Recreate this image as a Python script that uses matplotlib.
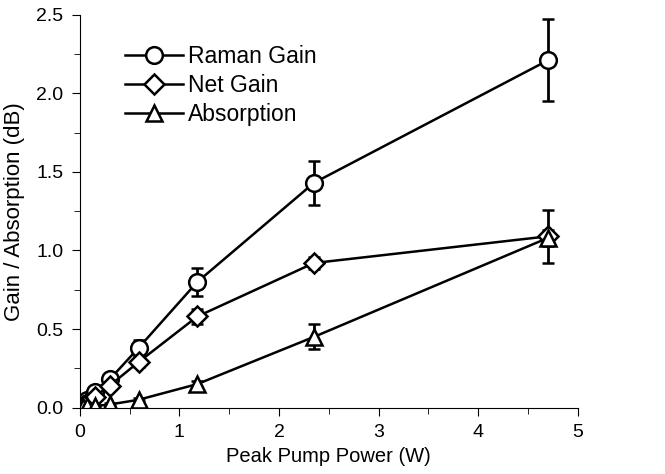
import numpy as np
import matplotlib
matplotlib.use("Agg")
import matplotlib.pyplot as plt
from matplotlib.ticker import MultipleLocator

plt.rcParams['font.family'] = ['Liberation Sans', 'DejaVu Sans']

# data
power = [0.03, 0.07, 0.15, 0.30, 0.59, 1.18, 2.35, 4.70]
raman = [0.02, 0.05, 0.10, 0.18, 0.38, 0.80, 1.43, 2.21]
raman_err = [0.01, 0.02, 0.03, 0.03, 0.05, 0.09, 0.14, 0.26]
net = [0.01, 0.03, 0.07, 0.14, 0.29, 0.58, 0.92, 1.09]
net_err = [0.01, 0.01, 0.02, 0.02, 0.03, 0.05, 0.04, 0.17]
absn = [0.005, 0.01, 0.01, 0.02, 0.05, 0.15, 0.45, 1.08]
absn_err = [0.005, 0.005, 0.005, 0.01, 0.01, 0.02, 0.08, 0.05]

fig = plt.figure(figsize=(6.65, 4.74), dpi=100)
ax = fig.add_axes([0.12, 0.14, 0.749, 0.829])

kw = dict(color='black', lw=1.8, mfc='white', mec='black', mew=1.8,
          ecolor='black', elinewidth=2, capsize=4, capthick=2)
ax.errorbar(power, raman, yerr=raman_err, marker='o', ms=12, label='Raman Gain', **kw)
ax.errorbar(power, net, yerr=net_err, marker='D', ms=10, label='Net Gain', **kw)
ax.errorbar(power, absn, yerr=absn_err, marker='^', ms=12, label='Absorption', **kw)

ax.set_xlim(0, 5)
ax.set_ylim(0, 2.5)
ax.xaxis.set_major_locator(MultipleLocator(1))
ax.xaxis.set_minor_locator(MultipleLocator(0.5))
ax.yaxis.set_major_locator(MultipleLocator(0.5))
ax.yaxis.set_minor_locator(MultipleLocator(0.25))
ax.yaxis.set_major_formatter(plt.FormatStrFormatter('%.1f'))
ax.spines['top'].set_visible(False)
ax.spines['right'].set_visible(False)
ax.tick_params(which='both', direction='out', labelsize=14, pad=6)
ax.tick_params(which='major', length=6)
ax.tick_params(which='minor', length=4)

ax.set_xlabel('Peak Pump Power (W)', fontsize=14.5, labelpad=4)
ax.set_ylabel('Gain / Absorption (dB)', fontsize=16, labelpad=8)

handles, labels = ax.get_legend_handles_labels()
handles = [h[0] for h in handles]
ax.legend(handles, labels, loc='upper left', bbox_to_anchor=(0.05, 0.975),
          frameon=False, fontsize=16.5, handlelength=2.5, handletextpad=0.25,
          labelspacing=0.25)

fig.savefig('out.png', dpi=100)
